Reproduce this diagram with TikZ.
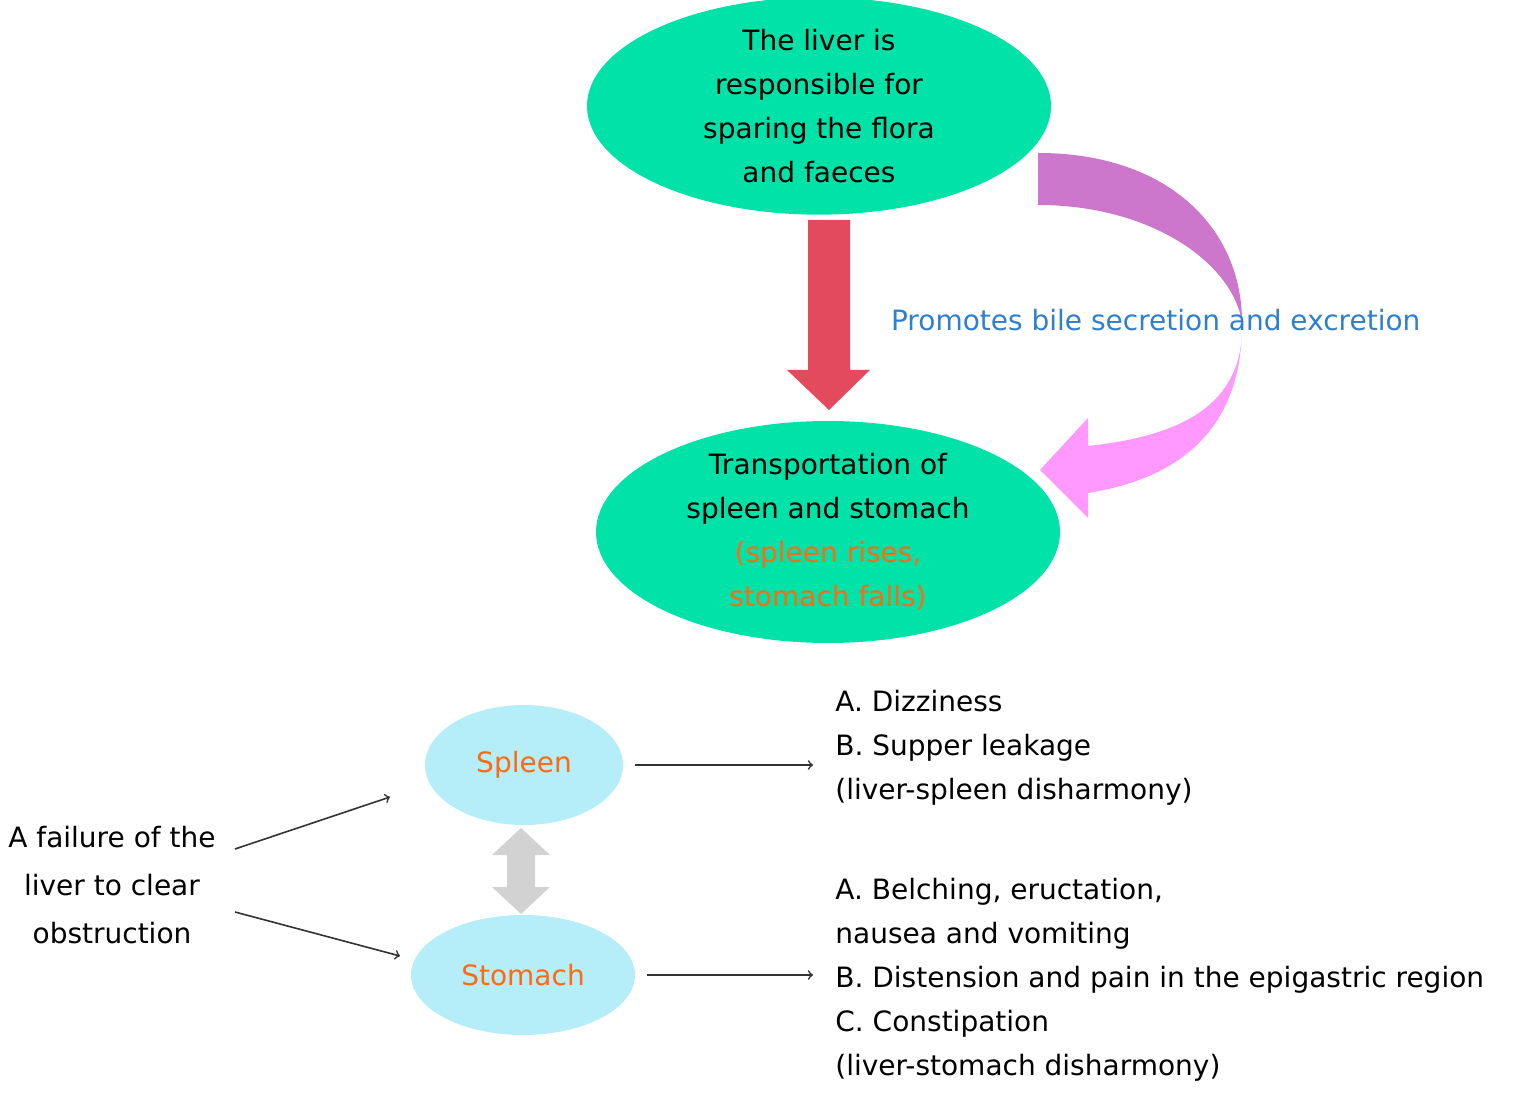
\documentclass[tikz,border=0pt]{standalone}
\usepackage{fontspec}
\setmainfont{DejaVu Sans}
\usetikzlibrary{shapes.geometric,positioning}
\definecolor{mygreen}{HTML}{00E2A8}
\definecolor{myred}{HTML}{E34A5E}
\definecolor{mypurple}{HTML}{CC77CC}
\definecolor{mypink}{HTML}{FF99FF}
\definecolor{myblue}{HTML}{2E7FD0}
\definecolor{myorange}{HTML}{FF6A10}
\definecolor{mycyan}{HTML}{B5EDF8}
\definecolor{mygrey}{HTML}{D2D2D2}
\newlength{\px}
\setlength{\px}{0.5pt}
\tikzset{
  big/.style={ellipse, fill=mygreen, minimum width=464\px, minimum height=208\px, align=center, inner sep=0pt},
  small/.style={ellipse, fill=mycyan, text=myorange, minimum height=120\px, inner sep=0pt},
  thinarrow/.style={->, >=to, black!80, thick}
}
\begin{document}
\begin{tikzpicture}[x=0.5pt, y=-0.5pt, font=\fontsize{14}{22}\selectfont]
\useasboundingbox (0,0) rectangle (1531,1106);

\node[big] (liver) at (819,106) {The liver is\\responsible for\\sparing the flora\\and faeces};
\node[big] (trans) at (828,532) {Transportation of\\spleen and stomach\\\textcolor{myorange}{(spleen rises,}\\\textcolor{myorange}{stomach falls)}};

% straight red arrow
\fill[myred] (808,220) -- (850,220) -- (850,370) -- (870,370) -- (829,410) -- (787,370) -- (808,370) -- cycle;

% curved arrow
\fill[mypurple] (1038,153) .. controls (1170,153) and (1242,230) .. (1242,322)
  .. controls (1232,262) and (1150,205) .. (1038,205) -- cycle;
\fill[mypink] (1242,318) .. controls (1246,400) and (1190,435) .. (1088,446)
  -- (1088,418) -- (1040,470) -- (1088,518) -- (1088,493)
  .. controls (1200,475) and (1244,410) .. (1242,318) -- cycle;
\node[text=myblue, anchor=west] (bile) at (884,320) {Promotes bile secretion and excretion};

% bottom part
\node[small, minimum width=198\px] (spleen) at (524,765) {Spleen};
\node[small, minimum width=224\px] (stomach) at (523,975) {Stomach};
\fill[mygrey] (521,828) -- (550,855) -- (535,855) -- (535,887) -- (550,887) -- (521,914)
  -- (492,887) -- (507,887) -- (507,855) -- (492,855) -- cycle;

\node[align=center, font=\fontsize{14}{24}\selectfont] (fail) at (112,885) {A failure of the\\liver to clear\\obstruction};
\coordinate (f1) at (235,849);
\coordinate (f2) at (235,912);
\draw[thinarrow] (f1) -- (390,797);
\draw[thinarrow] (f2) -- (400,956);

\node[anchor=north west, align=left, inner sep=0pt] (symA) at (835,690) {A. Dizziness\\B. Supper leakage\\(liver-spleen disharmony)};
\node[anchor=north west, align=left, inner sep=0pt] (symB) at (835,878) {A. Belching, eructation,\\nausea and vomiting\\B. Distension and pain in the epigastric region\\C. Constipation\\(liver-stomach disharmony)};
\draw[thinarrow] ([xshift=12\px]spleen.east) -- (813,765);
\draw[thinarrow] ([xshift=12\px]stomach.east) -- (813,975);
\end{tikzpicture}
\end{document}
